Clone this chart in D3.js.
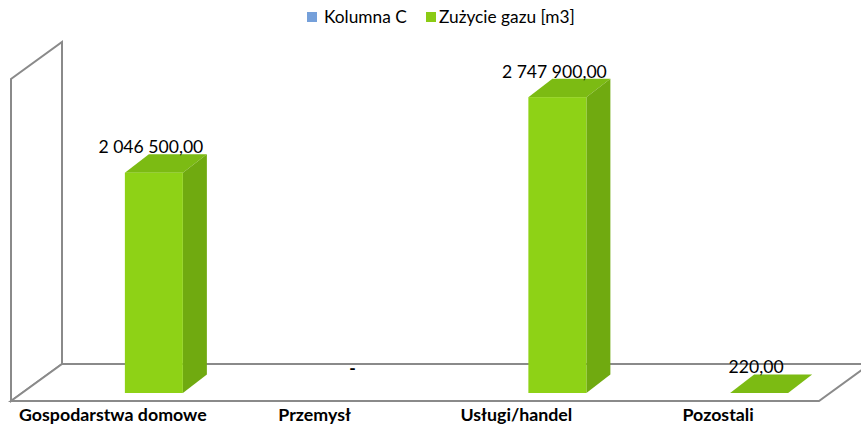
<!DOCTYPE html>
<html>
<head>
<meta charset="utf-8">
<script src="https://cdn.jsdelivr.net/npm/d3@7"></script>
<style>
  html, body { margin: 0; padding: 0; background: #fff; }
  svg { display: block; font-family: Lato, "Open Sans", sans-serif; }
</style>
</head>
<body>
<svg id="chart" width="861" height="431"></svg>
<script>
// Gas consumption by consumer group
const categories = ["Gospodarstwa domowe", "Przemysł", "Usługi/handel", "Pozostali"];
const gasUse = [2046500, 0, 2747900, 220];
const valueLabels = ["2 046 500,00", "-", "2 747 900,00", "220,00"];
const seriesNames = ["Kolumna C", "Zużycie gazu [m3]"];
const seriesColors = ["#75a0da", "#8bcb14"];
const axisMax = 3000000;

const svg = d3.select("#chart");

// 3D projection offsets
const wallDepth = { dx: 51, dy: -37 };
const barDepth = { dx: 24, dy: -18.5 };

const x = d3.scaleBand().domain(categories).range([53, 860]).paddingInner(0).paddingOuter(0);
const y = d3.scaleLinear().domain([0, axisMax]).range([393, 70]);
// back-plane vertical scale used for the walls
const yBack = d3.scaleLinear().domain([0, axisMax]).range([364, 42]);

const wallStroke = "#8a8a8a";
const floorBackLeft = 62, floorBackRight = 870;
const line = d3.line();

// side wall
svg.append("path")
  .attr("d", line([
    [floorBackLeft - wallDepth.dx, yBack(0) - wallDepth.dy],
    [floorBackLeft - wallDepth.dx, yBack(axisMax) - wallDepth.dy],
    [floorBackLeft, yBack(axisMax)],
    [floorBackLeft, yBack(0)]
  ]) + "Z")
  .attr("fill", "#fff").attr("stroke", wallStroke).attr("stroke-width", 2)
  .attr("stroke-linejoin", "miter");

// floor
svg.append("path")
  .attr("d", line([
    [floorBackLeft - wallDepth.dx, yBack(0) - wallDepth.dy],
    [floorBackLeft, yBack(0)],
    [floorBackRight, yBack(0)],
    [floorBackRight - wallDepth.dx, yBack(0) - wallDepth.dy]
  ]) + "Z")
  .attr("fill", "#fff").attr("stroke", wallStroke).attr("stroke-width", 2);

// bars
const barW = 58;
const frontCol = "#8ed216", sideCol = "#70aa10", topCol = "#7cbb13";
const bars = svg.append("g");
categories.forEach((c, i) => {
  const v = gasUse[i];
  if (v <= 0) return;
  const cx = x(c) + x.bandwidth() / 2;
  const x0 = cx - barW / 2, x1 = cx + barW / 2;
  const yt = y(v), yb = y(0);
  const g = bars.append("g");
  g.append("path").attr("fill", topCol)
    .attr("d", line([[x0, yt], [x0 + barDepth.dx, yt + barDepth.dy], [x1 + barDepth.dx, yt + barDepth.dy], [x1, yt]]) + "Z");
  if (yb - yt > 1) {
    g.append("path").attr("fill", sideCol)
      .attr("d", line([[x1, yt], [x1 + barDepth.dx, yt + barDepth.dy], [x1 + barDepth.dx, yb + barDepth.dy], [x1, yb]]) + "Z");
    g.append("rect").attr("fill", frontCol)
      .attr("x", x0).attr("y", yt).attr("width", barW).attr("height", yb - yt);
  }
});

// value labels
svg.append("g").selectAll("text")
  .data(categories)
  .join("text")
  .attr("x", (c) => x(c) + x.bandwidth() / 2 - 3)
  .attr("y", (c, i) => y(gasUse[i]) + barDepth.dy - 1)
  .attr("text-anchor", "middle")
  .attr("font-size", 17.6)
  .attr("font-weight", (c, i) => valueLabels[i] === "-" ? "bold" : "normal")
  .attr("fill", "#000")
  .text((c, i) => valueLabels[i]);

// category axis labels
svg.append("g").selectAll("text")
  .data(categories)
  .join("text")
  .attr("x", (c) => x(c) + x.bandwidth() / 2 - 41)
  .attr("y", 421)
  .attr("text-anchor", "middle")
  .attr("font-size", 17.8)
  .attr("font-weight", "bold")
  .attr("fill", "#000")
  .text((c) => c);

// legend
const legendItems = [
  { name: seriesNames[0], color: seriesColors[0], x: 307, gap: 17 },
  { name: seriesNames[1], color: seriesColors[1], x: 426, gap: 13 }
];
const lg = svg.append("g");
legendItems.forEach((d) => {
  lg.append("rect").attr("x", d.x).attr("y", 12).attr("width", 10).attr("height", 10).attr("fill", d.color);
  lg.append("text").attr("x", d.x + d.gap).attr("y", 23).attr("font-size", 17.3).attr("fill", "#000").text(d.name);
});
</script>
</body>
</html>
